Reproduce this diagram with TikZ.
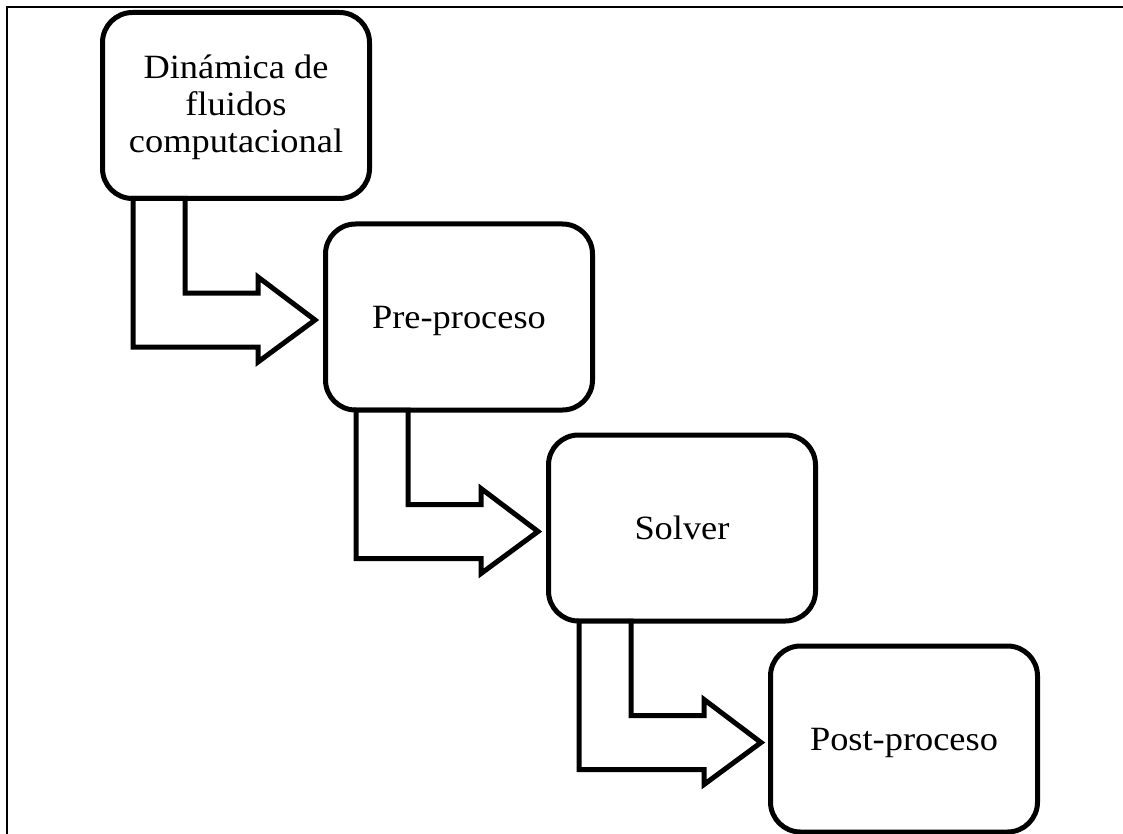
\documentclass[tikz,border=0pt]{standalone}
\usepackage{fontspec}
\setmainfont{Liberation Serif}[FakeStretch=1.07]
\usetikzlibrary{calc}
\tikzset{
  stagebox/.style={draw=black, line width=5pt, rounded corners=30pt, fill=white,
    minimum width=267pt, minimum height=186pt, inner sep=0pt, align=center,
    font=\fontsize{34}{37}\selectfont, text height=26pt, text depth=4pt},
  bentarrow/.style={draw=black, line width=5pt, fill=white, line join=miter},
  framestyle/.style={draw=black, line width=1.5pt}
}
\begin{document}
\begin{tikzpicture}[x=1pt,y=-1pt]
\useasboundingbox (0,0) rectangle (1123,834);
\draw[framestyle] (7,834) -- (7,7) -- (1123,7);
\node[stagebox, text height=100pt, text depth=5pt] (b1) at (236,105.5) {Dinámica de\\fluidos\\computacional};
\node[stagebox] (b2) at (459,317) {Pre-proceso};
\node[stagebox] (b3) at (682,528) {Solver};
\node[stagebox] (b4) at (904,739) {Post-proceso};
\foreach \a in {b1,b2,b3}{
  \draw[bentarrow]
    ($(\a.center)+(-103,93)$) coordinate (\a-o) --
    ($(\a.center)+(-103,241.5)$) --
    ($(\a.center)+(22,241.5)$) --
    ($(\a.center)+(22,256.5)$) --
    ($(\a.center)+(79,214.5)$) coordinate (\a-tip) --
    ($(\a.center)+(22,171.5)$) --
    ($(\a.center)+(22,187.5)$) --
    ($(\a.center)+(-51,187.5)$) --
    ($(\a.center)+(-51,93)$) -- cycle;
}
\end{tikzpicture}
\end{document}
